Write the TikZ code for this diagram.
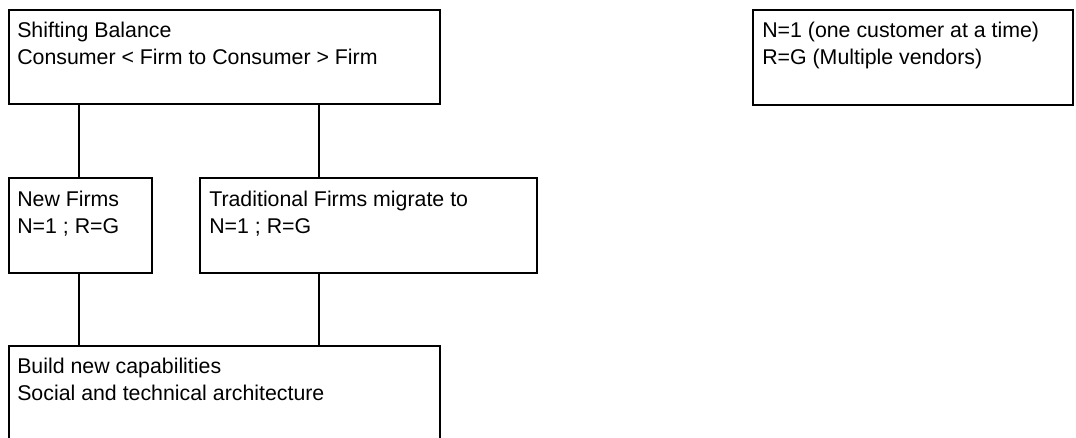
\documentclass[tikz,border=0pt]{standalone}
\usepackage{fontspec}
\setmainfont{Liberation Sans}
\begin{document}
\begin{tikzpicture}[x=0.75pt,y=-0.75pt,
  box/.style={draw,line width=1.4pt,inner sep=0pt,anchor=north west},
  txt/.style={anchor=base west,inner sep=0pt,font=\fontsize{16}{20}\selectfont},
  link/.style={line width=1.3pt}]
\useasboundingbox (0,0) rectangle (1076,437);
\clip (0,0) rectangle (1076,437);
% boxes
\node[box,minimum width=323.25pt,minimum height=70.5pt] (top) at (8,9) {};
\node[box,minimum width=240pt,minimum height=71.25pt] (right) at (752,9) {};
\node[box,minimum width=107.25pt,minimum height=71.25pt] (new) at (8,177) {};
\node[box,minimum width=252.75pt,minimum height=71.25pt] (trad) at (199,177) {};
\node[box,minimum width=323.25pt,minimum height=72pt] (bot) at (8,345) {};
% texts
\node[txt] (t1) at (17,37) {Shifting Balance};
\node[txt] (t2) at (17,64) {Consumer < Firm to Consumer > Firm};
\node[txt] (r1) at (762,37) {N=1 (one customer at a time)};
\node[txt] (r2) at (762,64) {R=G (Multiple vendors)};
\node[txt] (n1) at (17,206) {New Firms};
\node[txt] (n2) at (17,233) {N=1 ; R=G};
\node[txt] (d1) at (209,206) {Traditional Firms migrate to};
\node[txt] (d2) at (209,233) {N=1 ; R=G};
\node[txt] (b1) at (17,373) {Build new capabilities};
\node[txt] (b2) at (17,400) {Social and technical architecture};
% connectors
\coordinate (la) at (79,0);
\coordinate (ta) at (319,0);
\draw[link] (la |- top.south) -- (la |- new.north);
\draw[link] (ta |- top.south) -- (ta |- trad.north);
\draw[link] (la |- new.south) -- (la |- bot.north);
\draw[link] (ta |- trad.south) -- (ta |- bot.north);
\end{tikzpicture}
\end{document}
